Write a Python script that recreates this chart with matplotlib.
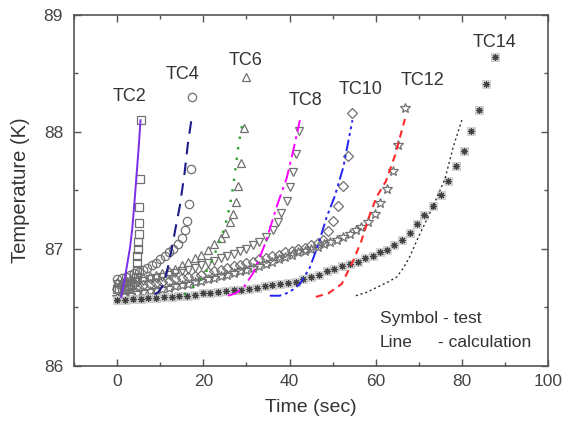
import matplotlib.pyplot as plt
from matplotlib.ticker import MultipleLocator

plt.rcParams["font.family"] = ["Liberation Sans", "DejaVu Sans"]

# test data (symbols)
t2 = [0.0, 0.5, 1.0, 1.5, 2.0, 2.5, 3.0, 3.5, 4.0, 4.3, 4.5, 4.6, 4.7, 4.8, 4.9, 5.0, 5.0, 5.1, 5.2, 5.4]
T2 = [86.66, 86.66, 86.67, 86.67, 86.68, 86.68, 86.69, 86.70, 86.72, 86.76, 86.82, 86.88, 86.94, 87.00,
      87.06, 87.13, 87.22, 87.36, 87.60, 88.10]

t4 = [0.0, 1.0, 2.0, 3.0, 4.0, 5.0, 6.0, 7.0, 8.0, 9.0, 10.0, 11.0, 12.0, 13.0, 14.0, 15.0, 15.7, 16.2,
      16.7, 17.2, 17.4]
T4 = [86.74, 86.75, 86.76, 86.78, 86.79, 86.80, 86.82, 86.84, 86.86, 86.88, 86.91, 86.94, 86.97, 87.00,
      87.04, 87.09, 87.16, 87.24, 87.38, 87.68, 88.30]

t6 = [0.0, 1.5, 3.0, 4.5, 6.0, 7.5, 9.0, 10.5, 12.0, 13.5, 15.0, 16.5, 18.0, 19.5, 21.0, 22.5, 24.0, 25.0,
      26.1, 26.9, 27.5, 28.0, 28.7, 29.5, 30.0]
T6 = [86.72, 86.73, 86.74, 86.74, 86.76, 86.77, 86.78, 86.79, 86.81, 86.83, 86.86, 86.89, 86.92, 86.95,
      86.99, 87.04, 87.09, 87.14, 87.23, 87.30, 87.40, 87.54, 87.73, 88.03, 88.47]

t8 = [0.0, 1.5, 3.0, 4.5, 6.0, 7.5, 9.0, 10.5, 12.0, 13.5, 15.0, 16.5, 18.0, 19.5, 21.0, 22.5, 24.0, 25.5,
      27.0, 28.5, 30.0, 31.5, 33.0, 34.5, 36.2, 37.3, 38.1, 39.3, 40.1, 40.8, 41.6, 42.2]
T8 = [86.70, 86.70, 86.71, 86.72, 86.73, 86.74, 86.75, 86.76, 86.78, 86.79, 86.81, 86.82, 86.84, 86.86,
      86.88, 86.90, 86.92, 86.94, 86.96, 86.98, 87.00, 87.03, 87.06, 87.10, 87.16, 87.23, 87.31, 87.41,
      87.53, 87.66, 87.81, 88.01]

t10 = [0.0, 1.5, 3.0, 4.5, 6.0, 7.5, 9.0, 10.5, 12.0, 13.5, 15.0, 16.5, 18.0, 19.5, 21.0, 22.5, 24.0, 25.5,
       27.0, 28.5, 30.0, 31.5, 33.0, 34.5, 36.0, 37.5, 39.0, 40.5, 42.0, 43.5, 45.0, 46.7, 47.8, 49.0, 50.1,
       51.3, 52.3, 53.5, 54.4]
T10 = [86.66, 86.67, 86.67, 86.68, 86.69, 86.70, 86.71, 86.72, 86.73, 86.74, 86.75, 86.76, 86.77, 86.78,
       86.80, 86.81, 86.82, 86.84, 86.85, 86.86, 86.88, 86.89, 86.91, 86.92, 86.94, 86.95, 86.97, 86.98,
       87.00, 87.01, 87.03, 87.05, 87.08, 87.15, 87.24, 87.37, 87.54, 87.79, 88.16]

t12 = [0.0, 1.5, 3.0, 4.5, 6.0, 7.5, 9.0, 10.5, 12.0, 13.5, 15.0, 16.5, 18.0, 19.5, 21.0, 22.5, 24.0, 25.5,
       27.0, 28.5, 30.0, 31.5, 33.0, 34.5, 36.0, 37.5, 39.0, 40.5, 42.0, 43.5, 45.0, 46.5, 48.0, 49.5, 51.0,
       52.5, 54.0, 55.5, 56.7, 58.3, 59.8, 61.0, 62.7, 64.1, 65.3, 66.7]
T12 = [86.59, 86.60, 86.61, 86.62, 86.63, 86.64, 86.65, 86.66, 86.67, 86.68, 86.69, 86.70, 86.72, 86.73,
       86.74, 86.75, 86.77, 86.78, 86.79, 86.81, 86.82, 86.84, 86.85, 86.87, 86.89, 86.91, 86.93, 86.95,
       86.97, 86.98, 87.00, 87.02, 87.04, 87.06, 87.08, 87.10, 87.13, 87.16, 87.19, 87.23, 87.30, 87.39,
       87.51, 87.67, 87.89, 88.20]

t14 = [0.0, 1.8, 3.6, 5.4, 7.2, 9.0, 10.8, 12.6, 14.4, 16.2, 18.0, 19.8, 21.6, 23.4, 25.2, 27.0, 28.8, 30.6,
       32.4, 34.2, 36.0, 37.8, 39.6, 41.4, 43.2, 45.0, 46.8, 48.6, 50.4, 52.2, 54.0, 55.8, 57.6, 59.4, 61.1,
       62.6, 64.3, 66.0, 68.0, 69.5, 71.3, 73.3, 75.1, 76.7, 78.7, 80.4, 82.1, 83.9, 85.7, 87.6]
T14 = [86.56, 86.56, 86.57, 86.57, 86.58, 86.58, 86.59, 86.59, 86.60, 86.60, 86.61, 86.62, 86.62, 86.63,
       86.64, 86.65, 86.65, 86.66, 86.67, 86.68, 86.69, 86.70, 86.71, 86.72, 86.74, 86.76, 86.78, 86.81,
       86.83, 86.85, 86.87, 86.89, 86.92, 86.94, 86.97, 86.99, 87.03, 87.08, 87.14, 87.21, 87.29, 87.37,
       87.46, 87.58, 87.71, 87.84, 88.01, 88.19, 88.41, 88.64]

# calculation (lines)
c2_t = [0.9, 1.5, 2.0, 2.5, 3.0, 3.5, 4.0, 4.5, 5.0, 5.4]
c2_T = [86.59, 86.70, 86.80, 86.91, 87.02, 87.18, 87.40, 87.64, 87.88, 88.10]
c4_t = [8.7, 9.5, 10.3, 11.0, 11.8, 12.6, 13.5, 14.5, 15.6, 16.4, 17.2]
c4_T = [86.61, 86.63, 86.67, 86.73, 86.85, 86.99, 87.17, 87.36, 87.64, 87.90, 88.10]
c6_t = [15.5, 17.6, 19.9, 21.5, 23.0, 25.0, 26.1, 26.9, 27.5, 28.2, 29.2]
c6_T = [86.61, 86.67, 86.76, 86.86, 86.99, 87.19, 87.36, 87.53, 87.70, 87.90, 88.10]
c8_t = [25.7, 27.5, 29.5, 31.5, 33.0, 34.6, 37.0, 39.3, 40.8, 42.4]
c8_T = [86.60, 86.62, 86.68, 86.79, 86.92, 87.07, 87.36, 87.60, 87.83, 88.10]
c10_t = [35.4, 37.7, 40.0, 42.4, 44.7, 46.7, 48.6, 50.5, 52.5, 54.6]
c10_T = [86.60, 86.60, 86.63, 86.70, 86.84, 87.04, 87.27, 87.45, 87.70, 88.10]
c12_t = [46.1, 49.0, 52.1, 54.8, 56.7, 58.7, 60.3, 62.4, 64.5, 66.8]
c12_T = [86.59, 86.62, 86.70, 86.90, 87.07, 87.30, 87.45, 87.58, 87.80, 88.11]
c14_t = [55.4, 58.0, 60.2, 62.5, 64.9, 66.5, 68.0, 69.9, 72.0, 74.0, 76.1, 78.0, 80.0]
c14_T = [86.60, 86.63, 86.67, 86.71, 86.76, 86.84, 86.94, 87.10, 87.26, 87.42, 87.60, 87.87, 88.10]

labels = ["TC2", "TC4", "TC6", "TC8", "TC10", "TC12", "TC14"]
label_xy = [(2.9, 88.30), (15.2, 88.49), (29.8, 88.61), (43.6, 88.27), (56.6, 88.36), (70.8, 88.44), (87.7, 88.76)]

gray = "#707070"
fig = plt.figure(figsize=(5.62, 4.25), dpi=100)
ax = fig.add_axes([0.132, 0.139, 0.843, 0.826])

sym = dict(linestyle="none", mfc="none", mec=gray, mew=0.9)
ax.plot(t2, T2, marker="s", ms=5.5, **sym)
ax.plot(t4, T4, marker="o", ms=6, **sym)
ax.plot(t6, T6, marker="^", ms=6, **sym)
ax.plot(t8, T8, marker="v", ms=6, **sym)
ax.plot(t10, T10, marker="D", ms=5, **sym)
ax.plot(t12, T12, marker="*", ms=7, **sym)
ax.plot(t14, T14, linestyle="none", marker="s", ms=5.5, mfc="#d4d4d4", mec="#bbbbbb", mew=0.5, alpha=0.8)
ax.plot(t14, T14, linestyle="none", marker=(8, 2, 0), ms=5, mec="#404040", mew=0.8)

ax.plot(c2_t, c2_T, color="#7a2ee6", lw=1.4)
ax.plot(c4_t, c4_T, color="#1c1c8a", lw=1.5, dashes=(6, 4))
ax.plot(c6_t, c6_T, color="#2e9e2e", lw=1.7, dashes=(1, 3.5))
ax.plot(c8_t, c8_T, color="#ff00ff", lw=1.4, dashes=(7, 2.5, 1.5, 2.5))
ax.plot(c10_t, c10_T, color="#2424f0", lw=1.4, dashes=(6, 2, 1.5, 2, 1.5, 2))
ax.plot(c12_t, c12_T, color="#ff2a2a", lw=1.5, dashes=(3.5, 2.5))
ax.plot(c14_t, c14_T, color="#303030", lw=1.0, dashes=(1.5, 2))

for lab, (x, y) in zip(labels, label_xy):
    ax.text(x, y, lab, ha="center", va="center", fontsize=13, color="#333333")

ax.text(0.645, 0.134, "Symbol - test", transform=ax.transAxes, fontsize=12.5, color="#333333", va="center")
ax.text(0.645, 0.066, "Line", transform=ax.transAxes, fontsize=12.5, color="#333333", va="center")
ax.text(0.768, 0.066, "- calculation", transform=ax.transAxes, fontsize=12.5, color="#333333", va="center")

ax.set_xlim(-10, 100)
ax.set_ylim(86, 89)
ax.xaxis.set_major_locator(MultipleLocator(20))
ax.xaxis.set_minor_locator(MultipleLocator(10))
ax.yaxis.set_major_locator(MultipleLocator(1))
ax.yaxis.set_minor_locator(MultipleLocator(0.5))
ax.tick_params(which="both", direction="in", top=True, right=True, colors="#555555",
               labelcolor="#444444", labelsize=12.5)
ax.tick_params(which="major", length=5, width=1)
ax.tick_params(which="minor", length=3, width=1)
ax.tick_params(axis="x", pad=6)
ax.tick_params(axis="y", pad=8)
for s in ax.spines.values():
    s.set_color("#555555")
    s.set_linewidth(1.2)

ax.set_xlabel("Time (sec)", fontsize=14, color="#333333", labelpad=7)
ax.set_ylabel("Temperature (K)", fontsize=14.5, color="#333333", labelpad=10)

fig.savefig("out.png", dpi=100)
